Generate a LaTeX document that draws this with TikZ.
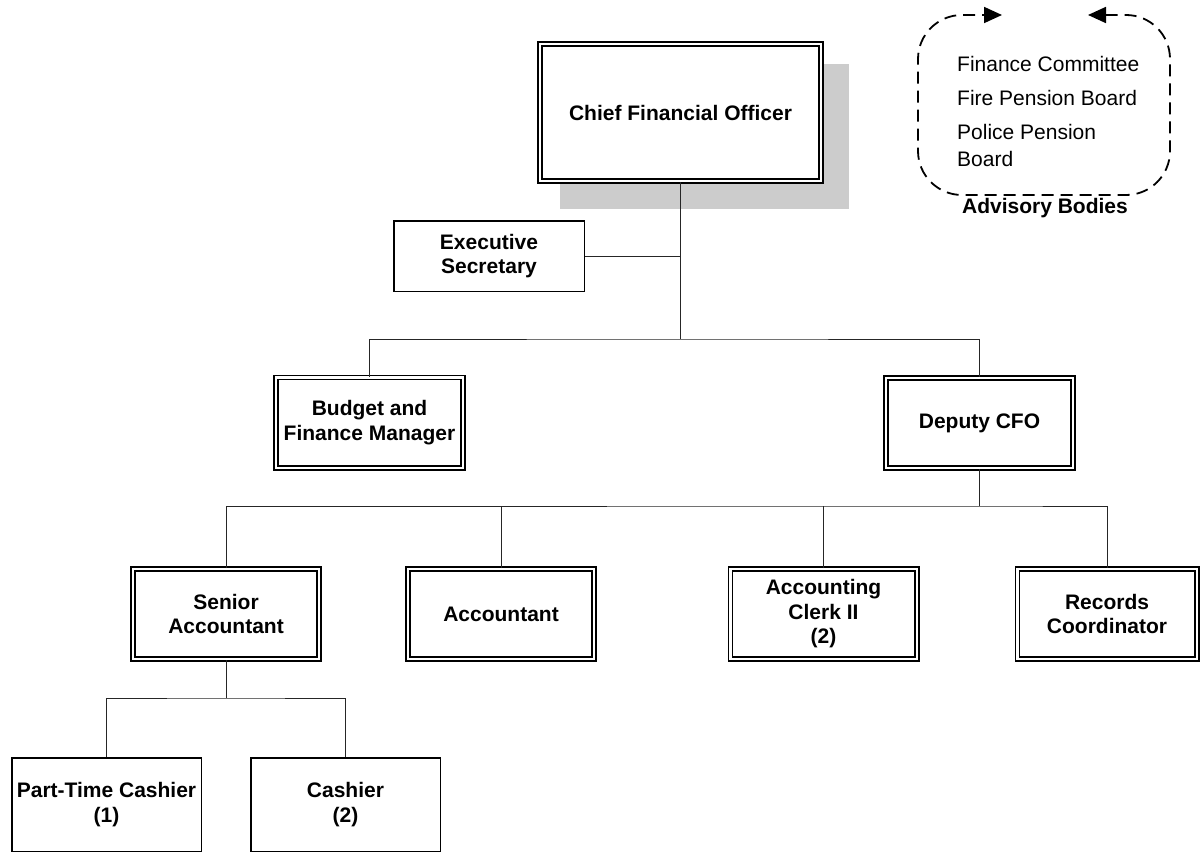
\documentclass[tikz,border=0pt]{standalone}
\usepackage{fontspec}
\setmainfont{Liberation Sans}
\usetikzlibrary{arrows.meta}
\begin{document}
\begin{tikzpicture}[x=1pt,y=-1pt,
  txt/.style={font=\fontsize{21pt}{24.5pt}\selectfont},
  post/.style={draw=black, line width=1.6pt, double=white, double distance=2.4pt,
    fill=white, align=center, inner sep=0pt,
    font=\fontsize{21pt}{24.5pt}\selectfont\bfseries},
  single/.style={draw=black, line width=1.5pt, fill=white, align=center, inner sep=0pt,
    font=\fontsize{21pt}{24.5pt}\selectfont\bfseries},
  topbox/.style={post, minimum width=281.4pt, minimum height=137.4pt},
  midbox/.style={post, minimum width=187.4pt, minimum height=90.4pt},
  lowbox/.style={post, minimum width=186.4pt, minimum height=90.4pt},
  link/.style={draw=black!85, line width=1pt},
  advline/.style={dashed, dash pattern=on 12pt off 7pt, line width=1.8pt,
    rounded corners=44pt},
  advtip/.tip={Triangle[length=18pt,width=16pt]},
]
\useasboundingbox (0,0) rectangle (1201,853);

% drop shadow of the top post
\fill[black!20] (560,64) rectangle (849,209);

% posts
\node[topbox] (cfo) at (680.5,112.5) {Chief Financial Officer};
\node[single, minimum width=190.5pt, minimum height=70.5pt] (exec) at (489,256)
  {Executive\\Secretary};
\node[midbox] (budget) at (369.5,422.5) {Budget and\\Finance Manager};
\node[midbox] (deputy) at (979.5,423) {Deputy CFO};
\node[lowbox] (senior) at (226,614) {Senior\\Accountant};
\node[lowbox] (acct) at (501,614) {Accountant};
\node[lowbox] (clerk) at (823.5,614) {Accounting\\Clerk II\\(2)};
\node[post, minimum width=179.4pt, minimum height=90.4pt] (records) at (1107,614)
  {Records\\Coordinator};
\node[single, minimum width=189.5pt, minimum height=93.5pt] (ptc) at (106.5,804.5)
  {Part-Time Cashier\\(1)};
\node[single, minimum width=189.5pt, minimum height=93.5pt] (cashier) at (345.5,804.5)
  {Cashier\\(2)};

% reporting lines
\coordinate (j1) at (680.5,339);
\coordinate (j2) at (979.5,506);
\coordinate (j3) at (226,698);
\draw[link] (cfo.south) -- (j1);
\draw[link] (exec.east) -- (exec.east -| j1);
\draw[link] (budget.north) |- (j1) -| (deputy.north);
\draw[link] (deputy.south) -- (j2);
\draw[link] (senior.north) |- (j2) -| (records.north);
\draw[link] (acct.north) -- (acct.north |- j2);
\draw[link] (clerk.north) -- (clerk.north |- j2);
\draw[link] (senior.south) -- (j3);
\draw[link] (ptc.north) |- (j3) -| (cashier.north);

% advisory bodies
\draw[advline, advtip-advtip] (1088,15) -- (1170,15) -- (1170,195)
  -- (918,195) -- (918,15) -- (1002,15);
\node[txt, anchor=base west, inner sep=0pt] (fc) at (957,72) {Finance Committee};
\node[txt, anchor=base west, inner sep=0pt] (fp) at (957,106) {Fire Pension Board};
\node[txt, anchor=base west, inner sep=0pt] (pp) at (957,140) {Police Pension};
\node[txt, anchor=base west, inner sep=0pt] (ppb) at (957,167) {Board};
\node[txt, font=\fontsize{21pt}{24.5pt}\selectfont\bfseries, anchor=base, inner sep=0pt]
  (adv) at (1045,213) {Advisory Bodies};
\end{tikzpicture}
\end{document}
